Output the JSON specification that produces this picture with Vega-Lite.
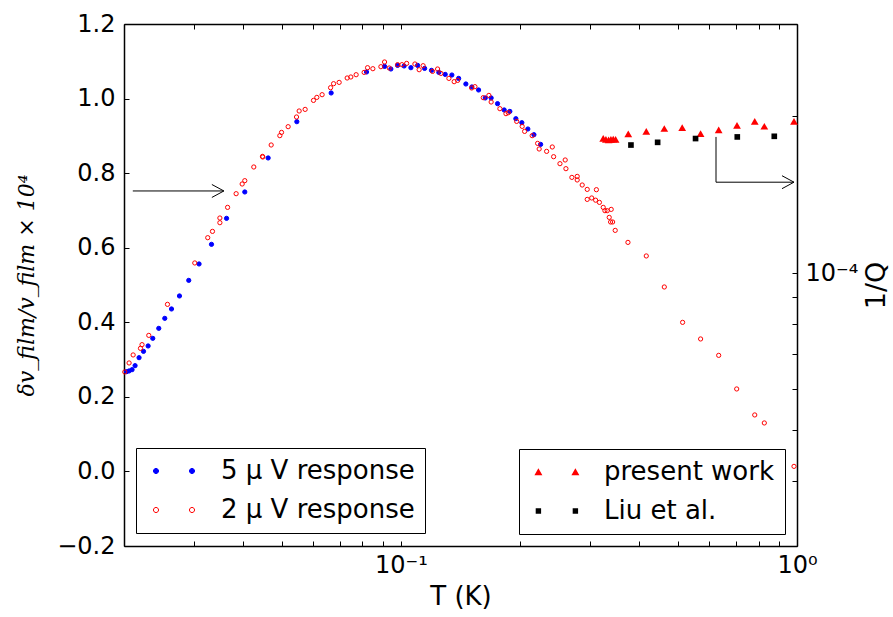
{
  "$schema": "https://vega.github.io/schema/vega-lite/v6.json",
  "width": 673,
  "height": 522,
  "autosize": {"type": "none"},
  "padding": {"left": 124, "top": 24, "right": 96, "bottom": 71},
  "background": "white",
  "datasets": {
    "left": [
      {"T": 0.0203, "v": 0.2676, "s": "5 μ V response"},
      {"T": 0.0206, "v": 0.2695, "s": "5 μ V response"},
      {"T": 0.02096, "v": 0.2729, "s": "5 μ V response"},
      {"T": 0.02133, "v": 0.2837, "s": "5 μ V response"},
      {"T": 0.02183, "v": 0.3051, "s": "5 μ V response"},
      {"T": 0.0224, "v": 0.322, "s": "5 μ V response"},
      {"T": 0.02301, "v": 0.3365, "s": "5 μ V response"},
      {"T": 0.02364, "v": 0.3569, "s": "5 μ V response"},
      {"T": 0.02448, "v": 0.3837, "s": "5 μ V response"},
      {"T": 0.02535, "v": 0.4105, "s": "5 μ V response"},
      {"T": 0.02636, "v": 0.4357, "s": "5 μ V response"},
      {"T": 0.02761, "v": 0.4706, "s": "5 μ V response"},
      {"T": 0.02914, "v": 0.5124, "s": "5 μ V response"},
      {"T": 0.03094, "v": 0.5564, "s": "5 μ V response"},
      {"T": 0.03326, "v": 0.609, "s": "5 μ V response"},
      {"T": 0.0363, "v": 0.6787, "s": "5 μ V response"},
      {"T": 0.04036, "v": 0.7495, "s": "5 μ V response"},
      {"T": 0.04623, "v": 0.8407, "s": "5 μ V response"},
      {"T": 0.05462, "v": 0.938, "s": "5 μ V response"},
      {"T": 0.06668, "v": 1.015, "s": "5 μ V response"},
      {"T": 0.0819, "v": 1.0713, "s": "5 μ V response"},
      {"T": 0.09095, "v": 1.0863, "s": "5 μ V response"},
      {"T": 0.09435, "v": 1.0793, "s": "5 μ V response"},
      {"T": 0.0981, "v": 1.089, "s": "5 μ V response"},
      {"T": 0.1019, "v": 1.0874, "s": "5 μ V response"},
      {"T": 0.106, "v": 1.0828, "s": "5 μ V response"},
      {"T": 0.1102, "v": 1.089, "s": "5 μ V response"},
      {"T": 0.1148, "v": 1.0809, "s": "5 μ V response"},
      {"T": 0.1195, "v": 1.0756, "s": "5 μ V response"},
      {"T": 0.1247, "v": 1.0702, "s": "5 μ V response"},
      {"T": 0.1294, "v": 1.0648, "s": "5 μ V response"},
      {"T": 0.1345, "v": 1.0632, "s": "5 μ V response"},
      {"T": 0.1399, "v": 1.0541, "s": "5 μ V response"},
      {"T": 0.1459, "v": 1.0391, "s": "5 μ V response"},
      {"T": 0.1511, "v": 1.0311, "s": "5 μ V response"},
      {"T": 0.1571, "v": 1.023, "s": "5 μ V response"},
      {"T": 0.1633, "v": 1.0016, "s": "5 μ V response"},
      {"T": 0.169, "v": 1.0016, "s": "5 μ V response"},
      {"T": 0.1754, "v": 0.9863, "s": "5 μ V response"},
      {"T": 0.1823, "v": 0.9694, "s": "5 μ V response"},
      {"T": 0.1884, "v": 0.9656, "s": "5 μ V response"},
      {"T": 0.1951, "v": 0.946, "s": "5 μ V response"},
      {"T": 0.202, "v": 0.9353, "s": "5 μ V response"},
      {"T": 0.2092, "v": 0.9184, "s": "5 μ V response"},
      {"T": 0.2167, "v": 0.9031, "s": "5 μ V response"},
      {"T": 0.2253, "v": 0.8771, "s": "5 μ V response"},
      {"T": 0.02009, "v": 0.2668, "s": "2 μ V response"},
      {"T": 0.0206, "v": 0.2909, "s": "2 μ V response"},
      {"T": 0.02109, "v": 0.3124, "s": "2 μ V response"},
      {"T": 0.02201, "v": 0.3301, "s": "2 μ V response"},
      {"T": 0.02221, "v": 0.34, "s": "2 μ V response"},
      {"T": 0.0231, "v": 0.3649, "s": "2 μ V response"},
      {"T": 0.02575, "v": 0.4481, "s": "2 μ V response"},
      {"T": 0.03018, "v": 0.5591, "s": "2 μ V response"},
      {"T": 0.03254, "v": 0.6269, "s": "2 μ V response"},
      {"T": 0.03345, "v": 0.6438, "s": "2 μ V response"},
      {"T": 0.03492, "v": 0.6671, "s": "2 μ V response"},
      {"T": 0.03492, "v": 0.6797, "s": "2 μ V response"},
      {"T": 0.03652, "v": 0.7082, "s": "2 μ V response"},
      {"T": 0.03838, "v": 0.7449, "s": "2 μ V response"},
      {"T": 0.03975, "v": 0.7709, "s": "2 μ V response"},
      {"T": 0.04036, "v": 0.7798, "s": "2 μ V response"},
      {"T": 0.04253, "v": 0.8165, "s": "2 μ V response"},
      {"T": 0.04474, "v": 0.8449, "s": "2 μ V response"},
      {"T": 0.0448, "v": 0.8433, "s": "2 μ V response"},
      {"T": 0.04705, "v": 0.8755, "s": "2 μ V response"},
      {"T": 0.04948, "v": 0.9005, "s": "2 μ V response"},
      {"T": 0.04997, "v": 0.9093, "s": "2 μ V response"},
      {"T": 0.05193, "v": 0.9246, "s": "2 μ V response"},
      {"T": 0.05452, "v": 0.9506, "s": "2 μ V response"},
      {"T": 0.05536, "v": 0.9667, "s": "2 μ V response"},
      {"T": 0.05732, "v": 0.971, "s": "2 μ V response"},
      {"T": 0.06017, "v": 0.9951, "s": "2 μ V response"},
      {"T": 0.06135, "v": 1.0032, "s": "2 μ V response"},
      {"T": 0.06326, "v": 1.0104, "s": "2 μ V response"},
      {"T": 0.06645, "v": 1.0292, "s": "2 μ V response"},
      {"T": 0.06762, "v": 1.0399, "s": "2 μ V response"},
      {"T": 0.06985, "v": 1.0434, "s": "2 μ V response"},
      {"T": 0.07318, "v": 1.0552, "s": "2 μ V response"},
      {"T": 0.07476, "v": 1.0579, "s": "2 μ V response"},
      {"T": 0.0771, "v": 1.064, "s": "2 μ V response"},
      {"T": 0.08077, "v": 1.0702, "s": "2 μ V response"},
      {"T": 0.08239, "v": 1.0828, "s": "2 μ V response"},
      {"T": 0.08497, "v": 1.0801, "s": "2 μ V response"},
      {"T": 0.08903, "v": 1.0855, "s": "2 μ V response"},
      {"T": 0.09095, "v": 1.0981, "s": "2 μ V response"},
      {"T": 0.09344, "v": 1.082, "s": "2 μ V response"},
      {"T": 0.0981, "v": 1.0909, "s": "2 μ V response"},
      {"T": 0.1006, "v": 1.0909, "s": "2 μ V response"},
      {"T": 0.1034, "v": 1.0943, "s": "2 μ V response"},
      {"T": 0.1085, "v": 1.0927, "s": "2 μ V response"},
      {"T": 0.1112, "v": 1.0774, "s": "2 μ V response"},
      {"T": 0.1138, "v": 1.0882, "s": "2 μ V response"},
      {"T": 0.1202, "v": 1.0729, "s": "2 μ V response"},
      {"T": 0.1238, "v": 1.0793, "s": "2 μ V response"},
      {"T": 0.1262, "v": 1.0675, "s": "2 μ V response"},
      {"T": 0.1322, "v": 1.0541, "s": "2 μ V response"},
      {"T": 0.1363, "v": 1.0453, "s": "2 μ V response"},
      {"T": 0.1391, "v": 1.0488, "s": "2 μ V response"},
      {"T": 0.1509, "v": 1.0284, "s": "2 μ V response"},
      {"T": 0.1538, "v": 1.0319, "s": "2 μ V response"},
      {"T": 0.1614, "v": 1.0024, "s": "2 μ V response"},
      {"T": 0.1668, "v": 1.0085, "s": "2 μ V response"},
      {"T": 0.169, "v": 0.9908, "s": "2 μ V response"},
      {"T": 0.1778, "v": 0.9729, "s": "2 μ V response"},
      {"T": 0.1842, "v": 0.9595, "s": "2 μ V response"},
      {"T": 0.1867, "v": 0.9621, "s": "2 μ V response"},
      {"T": 0.196, "v": 0.9388, "s": "2 μ V response"},
      {"T": 0.2024, "v": 0.9254, "s": "2 μ V response"},
      {"T": 0.2053, "v": 0.912, "s": "2 μ V response"},
      {"T": 0.2145, "v": 0.9005, "s": "2 μ V response"},
      {"T": 0.2214, "v": 0.8798, "s": "2 μ V response"},
      {"T": 0.2234, "v": 0.8648, "s": "2 μ V response"},
      {"T": 0.2333, "v": 0.8584, "s": "2 μ V response"},
      {"T": 0.2411, "v": 0.8702, "s": "2 μ V response"},
      {"T": 0.243, "v": 0.8441, "s": "2 μ V response"},
      {"T": 0.2521, "v": 0.8254, "s": "2 μ V response"},
      {"T": 0.2599, "v": 0.8353, "s": "2 μ V response"},
      {"T": 0.261, "v": 0.812, "s": "2 μ V response"},
      {"T": 0.2702, "v": 0.7886, "s": "2 μ V response"},
      {"T": 0.2787, "v": 0.7913, "s": "2 μ V response"},
      {"T": 0.2787, "v": 0.7817, "s": "2 μ V response"},
      {"T": 0.2869, "v": 0.7682, "s": "2 μ V response"},
      {"T": 0.2954, "v": 0.7564, "s": "2 μ V response"},
      {"T": 0.3116, "v": 0.7556, "s": "2 μ V response"},
      {"T": 0.2954, "v": 0.7296, "s": "2 μ V response"},
      {"T": 0.3032, "v": 0.7334, "s": "2 μ V response"},
      {"T": 0.3102, "v": 0.7275, "s": "2 μ V response"},
      {"T": 0.3171, "v": 0.7216, "s": "2 μ V response"},
      {"T": 0.3242, "v": 0.7082, "s": "2 μ V response"},
      {"T": 0.3274, "v": 0.6993, "s": "2 μ V response"},
      {"T": 0.3318, "v": 0.6993, "s": "2 μ V response"},
      {"T": 0.3396, "v": 0.7028, "s": "2 μ V response"},
      {"T": 0.3357, "v": 0.6814, "s": "2 μ V response"},
      {"T": 0.3384, "v": 0.669, "s": "2 μ V response"},
      {"T": 0.3424, "v": 0.669, "s": "2 μ V response"},
      {"T": 0.3476, "v": 0.6465, "s": "2 μ V response"},
      {"T": 0.3743, "v": 0.6143, "s": "2 μ V response"},
      {"T": 0.4164, "v": 0.5779, "s": "2 μ V response"},
      {"T": 0.4624, "v": 0.4947, "s": "2 μ V response"},
      {"T": 0.5143, "v": 0.3998, "s": "2 μ V response"},
      {"T": 0.571, "v": 0.3553, "s": "2 μ V response"},
      {"T": 0.6343, "v": 0.3113, "s": "2 μ V response"},
      {"T": 0.7043, "v": 0.2212, "s": "2 μ V response"},
      {"T": 0.7822, "v": 0.1515, "s": "2 μ V response"},
      {"T": 0.827, "v": 0.13, "s": "2 μ V response"},
      {"T": 0.9827, "v": 0.0136, "s": "2 μ V response"}
    ],
    "right": [
      {"T": 0.3242, "Q": 0.0001812, "s2": "present work"},
      {"T": 0.3293, "Q": 0.0001804, "s2": "present work"},
      {"T": 0.3345, "Q": 0.0001799, "s2": "present work"},
      {"T": 0.339, "Q": 0.0001804, "s2": "present work"},
      {"T": 0.3436, "Q": 0.0001806, "s2": "present work"},
      {"T": 0.3484, "Q": 0.0001804, "s2": "present work"},
      {"T": 0.375, "Q": 0.0001847, "s2": "present work"},
      {"T": 0.4164, "Q": 0.0001869, "s2": "present work"},
      {"T": 0.4624, "Q": 0.0001892, "s2": "present work"},
      {"T": 0.5131, "Q": 0.00019, "s2": "present work"},
      {"T": 0.571, "Q": 0.000185, "s2": "present work"},
      {"T": 0.6343, "Q": 0.000188, "s2": "present work"},
      {"T": 0.7056, "Q": 0.0001919, "s2": "present work"},
      {"T": 0.7822, "Q": 0.0001953, "s2": "present work"},
      {"T": 0.827, "Q": 0.0001911, "s2": "present work"},
      {"T": 0.9827, "Q": 0.0001953, "s2": "present work"},
      {"T": 0.3809, "Q": 0.0001759, "s2": "Liu et al."},
      {"T": 0.4448, "Q": 0.000178, "s2": "Liu et al."},
      {"T": 0.5545, "Q": 0.000181, "s2": "Liu et al."},
      {"T": 0.7067, "Q": 0.0001823, "s2": "Liu et al."},
      {"T": 0.8763, "Q": 0.0001828, "s2": "Liu et al."}
    ],
    "arrowL": [{"T": 0.02105, "T2": 0.03574, "v": 0.7522}],
    "arrowLHead": [{"T": 0.03574, "v": 0.7522}],
    "arrowR": [
      {"T": 0.6245, "Q": 0.0001823, "o": 1},
      {"T": 0.6245, "Q": 0.0001493, "o": 2},
      {"T": 0.9827, "Q": 0.0001493, "o": 3}
    ],
    "arrowRHead": [{"T": 0.9827, "Q": 0.0001493}]
  },
  "layer": [
    {
      "encoding": {
        "x": {
          "field": "T",
          "type": "quantitative",
          "scale": {"type": "log", "domain": [0.02, 1], "nice": false},
          "axis": {
            "orient": "bottom",
            "title": "T (K)",
            "values": [0.02, 0.03, 0.04, 0.05, 0.06, 0.07, 0.08, 0.09, 0.1, 0.2, 0.3, 0.4, 0.5, 0.6, 0.7, 0.8, 0.9, 1],
            "labelExpr": "datum.value == 0.1 ? '10⁻¹' : (datum.value == 1 ? '10⁰' : '')",
            "labelFlush": false,
            "labelOverlap": false,
            "labelPadding": 12,
            "titlePadding": 6
          }
        },
        "y": {
          "field": "v",
          "type": "quantitative",
          "scale": {"domain": [-0.2, 1.2], "nice": false, "zero": false},
          "axis": {
            "orient": "left",
            "title": "δv_film/v_film × 10⁴",
            "titleFont": "DejaVu Serif",
            "titleFontStyle": "italic",
            "titleFontSize": 22,
            "values": [-0.2, 0, 0.2, 0.4, 0.6, 0.8, 1, 1.2],
            "format": ".1f",
            "labelPadding": 14,
            "titlePadding": 18
          }
        }
      },
      "layer": [
        {
          "data": {"name": "left"},
          "mark": {"type": "point", "shape": "circle", "size": 18, "strokeWidth": 1, "opacity": 1},
          "encoding": {
            "fill": {
              "field": "s",
              "type": "nominal",
              "scale": {"domain": ["5 μ V response", "2 μ V response"], "range": ["#0000ff", "transparent"]},
              "legend": null
            },
            "stroke": {
              "field": "s",
              "type": "nominal",
              "scale": {"domain": ["5 μ V response", "2 μ V response"], "range": ["#0000ff", "#ff0000"]},
              "legend": null
            }
          }
        },
        {
          "data": {"name": "left"},
          "mark": {"type": "point", "size": 36, "strokeWidth": 1, "opacity": 0},
          "encoding": {
            "fill": {
              "field": "s",
              "type": "nominal",
              "scale": {"domain": ["5 μ V response", "2 μ V response"], "range": ["#0000ff", "transparent"]},
              "legend": {"orient": "none", "legendX": 12, "legendY": 424, "title": null, "strokeColor": "black", "fillColor": "white", "padding": 10, "cornerRadius": 0, "labelFont": "DejaVu Sans", "labelFontSize": 26, "labelColor": "black", "labelLimit": 0, "symbolSize": 36, "symbolStrokeWidth": 1, "symbolOpacity": 1, "labelOffset": 49, "rowPadding": 13}
            },
            "stroke": {
              "field": "s",
              "type": "nominal",
              "scale": {"domain": ["5 μ V response", "2 μ V response"], "range": ["#0000ff", "#ff0000"]},
              "legend": {"orient": "none", "legendX": 12, "legendY": 424, "title": null, "strokeColor": "black", "fillColor": "white", "padding": 10, "cornerRadius": 0, "labelFont": "DejaVu Sans", "labelFontSize": 26, "labelColor": "black", "labelLimit": 0, "symbolSize": 36, "symbolStrokeWidth": 1, "symbolOpacity": 1, "labelOffset": 49, "rowPadding": 13}
            },
            "shape": {
              "field": "s",
              "type": "nominal",
              "scale": {
                "domain": ["5 μ V response", "2 μ V response"],
                "range": [
                  "M -1.85,0 A 0.85,0.85 0 1,1 -0.15,0 A 0.85,0.85 0 1,1 -1.85,0 Z M 10.15,0 A 0.85,0.85 0 1,1 11.85,0 A 0.85,0.85 0 1,1 10.15,0 Z",
                  "M -1.85,0 A 0.85,0.85 0 1,1 -0.15,0 A 0.85,0.85 0 1,1 -1.85,0 Z M 10.15,0 A 0.85,0.85 0 1,1 11.85,0 A 0.85,0.85 0 1,1 10.15,0 Z"
                ]
              },
              "legend": {"orient": "none", "legendX": 12, "legendY": 424, "title": null, "strokeColor": "black", "fillColor": "white", "padding": 10, "cornerRadius": 0, "labelFont": "DejaVu Sans", "labelFontSize": 26, "labelColor": "black", "labelLimit": 0, "symbolSize": 36, "symbolStrokeWidth": 1, "symbolOpacity": 1, "labelOffset": 49, "rowPadding": 13}
            }
          }
        },
        {
          "data": {"name": "arrowL"},
          "mark": {"type": "rule", "color": "black", "strokeWidth": 1},
          "encoding": {"x2": {"field": "T2"}}
        },
        {
          "data": {"name": "arrowLHead"},
          "mark": {"type": "point", "shape": "M -2,-1.08 L 0,0 L -2,1.08", "size": 144, "filled": false, "color": "black", "strokeWidth": 1, "opacity": 1},
          "encoding": {}
        }
      ],
      "resolve": {"scale": {"fill": "independent", "stroke": "independent", "shape": "independent"}}
    },
    {
      "encoding": {
        "x": {
          "field": "T",
          "type": "quantitative",
          "scale": {"type": "log", "domain": [0.02, 1], "nice": false},
          "axis": {
            "orient": "top",
            "title": null,
            "labels": false,
            "values": [0.02, 0.03, 0.04, 0.05, 0.06, 0.07, 0.08, 0.09, 0.1, 0.2, 0.3, 0.4, 0.5, 0.6, 0.7, 0.8, 0.9, 1]
          }
        },
        "y": {
          "field": "Q",
          "type": "quantitative",
          "scale": {"type": "log", "domain": [0.00003, 0.0003], "nice": false},
          "axis": {
            "orient": "right",
            "title": "1/Q",
            "titleFontSize": 27,
            "titleAngle": 270,
            "values": [0.00003, 0.00004, 0.00005, 0.00006, 0.00007, 0.00008, 0.00009, 0.0001, 0.0002, 0.0003],
            "labelExpr": "abs(log(datum.value)/LN10 + 4) < 0.01 ? '10⁻⁴' : ''",
            "labelOverlap": false,
            "labelFlush": false,
            "labelPadding": 13,
            "titlePadding": 33
          }
        }
      },
      "layer": [
        {
          "data": {"name": "right"},
          "mark": {"type": "point", "filled": true, "opacity": 1, "strokeWidth": 0},
          "encoding": {
            "shape": {
              "field": "s2",
              "type": "nominal",
              "scale": {"domain": ["present work", "Liu et al."], "range": ["triangle-up", "square"]},
              "legend": null
            },
            "size": {
              "field": "s2",
              "type": "nominal",
              "scale": {"domain": ["present work", "Liu et al."], "range": [60, 32]},
              "legend": null
            },
            "color": {
              "field": "s2",
              "type": "nominal",
              "scale": {"domain": ["present work", "Liu et al."], "range": ["#ff0000", "#000000"]},
              "legend": null
            }
          }
        },
        {
          "data": {"name": "right"},
          "mark": {"type": "point", "filled": true, "opacity": 0, "strokeWidth": 0, "size": 36},
          "encoding": {
            "shape": {
              "field": "s2",
              "type": "nominal",
              "scale": {
                "domain": ["present work", "Liu et al."],
                "range": [
                  "M -1.2,-1.25 L 0.13,1.08 L -2.53,1.08 Z M 11.13,-1.25 L 12.46,1.08 L 9.8,1.08 Z",
                  "M -2.1,-0.9 L -0.3,-0.9 L -0.3,0.9 L -2.1,0.9 Z M 10.23,-0.9 L 12.03,-0.9 L 12.03,0.9 L 10.23,0.9 Z"
                ]
              },
              "legend": {"orient": "none", "legendX": 395, "legendY": 425, "title": null, "strokeColor": "black", "fillColor": "white", "padding": 10, "cornerRadius": 0, "labelFont": "DejaVu Sans", "labelFontSize": 26, "labelColor": "black", "labelLimit": 0, "symbolSize": 36, "symbolStrokeWidth": 0, "symbolOpacity": 1, "labelOffset": 49, "rowPadding": 13}
            },
            "color": {
              "field": "s2",
              "type": "nominal",
              "scale": {"domain": ["present work", "Liu et al."], "range": ["#ff0000", "#000000"]},
              "legend": {"orient": "none", "legendX": 395, "legendY": 425, "title": null, "strokeColor": "black", "fillColor": "white", "padding": 10, "cornerRadius": 0, "labelFont": "DejaVu Sans", "labelFontSize": 26, "labelColor": "black", "labelLimit": 0, "symbolSize": 36, "symbolStrokeWidth": 0, "symbolOpacity": 1, "labelOffset": 49, "rowPadding": 13}
            }
          }
        },
        {
          "data": {"name": "arrowR"},
          "mark": {"type": "line", "color": "black", "strokeWidth": 1},
          "encoding": {"order": {"field": "o", "type": "quantitative"}}
        },
        {
          "data": {"name": "arrowRHead"},
          "mark": {"type": "point", "shape": "M -2,-1.08 L 0,0 L -2,1.08", "size": 144, "filled": false, "color": "black", "strokeWidth": 1, "opacity": 1},
          "encoding": {}
        }
      ],
      "resolve": {"scale": {"shape": "independent", "color": "independent", "size": "independent"}}
    }
  ],
  "resolve": {
    "scale": {"x": "independent", "y": "independent", "fill": "independent", "stroke": "independent", "shape": "independent", "size": "independent", "color": "independent"},
    "axis": {"x": "independent", "y": "independent"}
  },
  "config": {
    "view": {"stroke": null},
    "axis": {
      "labelFont": "DejaVu Sans",
      "labelFontSize": 24,
      "labelColor": "black",
      "titleFont": "DejaVu Sans",
      "titleFontSize": 26,
      "titleFontWeight": "normal",
      "titleColor": "black",
      "domainColor": "black",
      "domainWidth": 1.5,
      "tickColor": "black",
      "tickWidth": 1,
      "tickSize": -5,
      "grid": false
    }
  }
}
